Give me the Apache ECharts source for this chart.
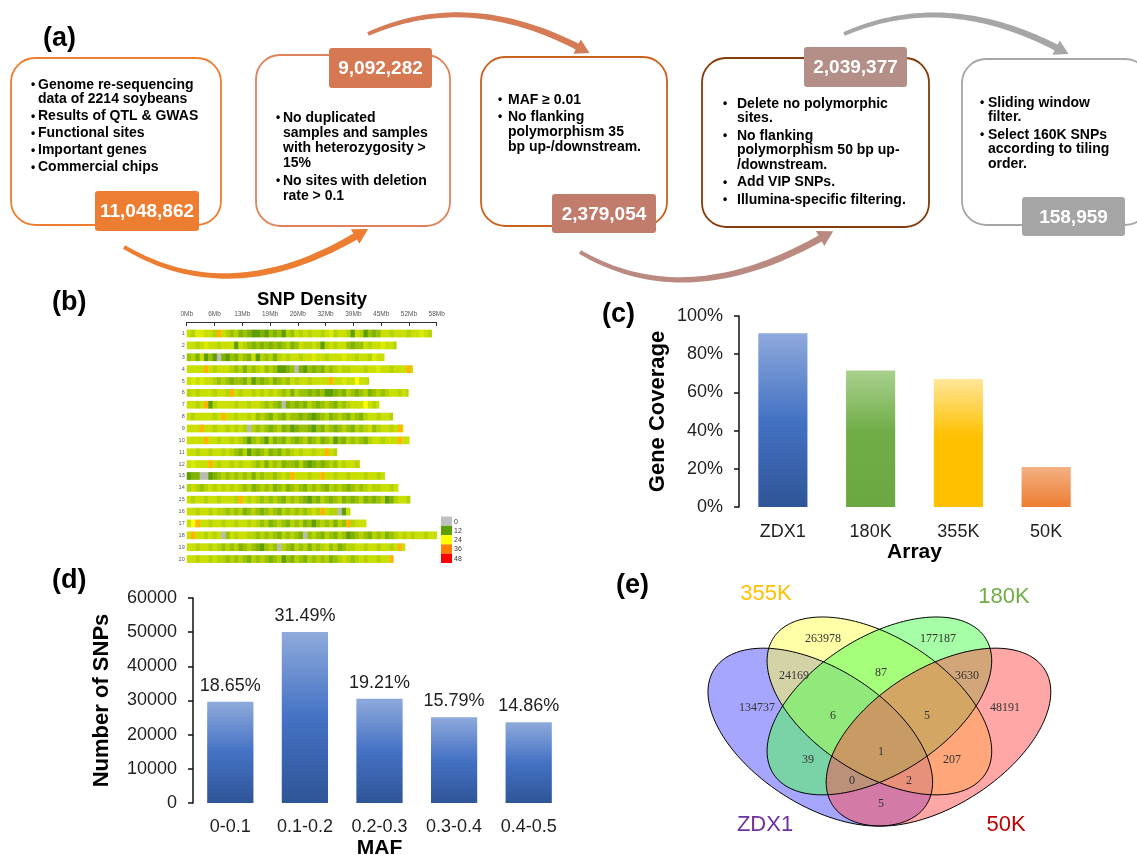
<!DOCTYPE html>
<html>
<head>
<meta charset="utf-8">
<script src="https://cdn.jsdelivr.net/npm/echarts@6/dist/echarts.min.js"></script>
<style>
  html, body { margin: 0; padding: 0; background: #ffffff; }
  #chart { width: 1137px; height: 855px; }
</style>
</head>
<body>
<div id="chart"></div>
<script>
// ---------------- data ----------------
// (a) SNP filtering pipeline
const STEP_COUNTS = [11048862, 9092282, 2379054, 2039377, 158959];
const STEP_NOTES = [
  [['Genome re-sequencing', 'data of 2214 soybeans'], ['Results of QTL & GWAS'], ['Functional sites'], ['Important genes'], ['Commercial chips']],
  [['No duplicated', 'samples and samples', 'with heterozygosity >', '15%'], ['No sites with deletion', 'rate > 0.1']],
  [['MAF \u2265 0.01'], ['No flanking', 'polymorphism 35', 'bp up-/downstream.']],
  [['Delete no polymorphic', 'sites.'], ['No flanking', 'polymorphism 50 bp up-', '/downstream.'], ['Add VIP SNPs.'], ['Illumina-specific filtering.']],
  [['Sliding window', 'filter.'], ['Select 160K SNPs', 'according to tiling', 'order.']]
];

// (b) SNP density along the 20 soybean chromosomes (1 Mb windows)
const CHROMOSOMES = ['1','2','3','4','5','6','7','8','9','10','11','12','13','14','15','16','17','18','19','20'];
const CHROM_LENGTH_MB = [56.8, 48.6, 45.8, 52.4, 42.2, 51.4, 44.6, 47.8, 50.2, 51.6, 34.8, 40.1, 45.9, 49.0, 51.8, 37.9, 41.6, 58.0, 50.6, 47.9];
const MB_AXIS_MAX = 58;
const MB_TICK_LABELS = ['0Mb', '6Mb', '13Mb', '19Mb', '26Mb', '32Mb', '39Mb', '45Mb', '52Mb', '58Mb'];
// SNPs per window for each density class code used in the strings below
const DENSITY_LEVEL_SNPS = [1, 9, 12, 14.5, 16.5, 18.5, 20, 21.5, 24, 31];
const DENSITY_BY_CHROM = [
  '6577665965 4534322324 3425465656 6567566526 5243466566 6566765',
  '6656766566 6265434343 4345346556 5256566434 465667665',
  '4536242032 4354362545 3565665667 6656667665 665766',
  '6666965666 5453545645 4223403243 4354565566 6566766566 696',
  '6767665454 3443524345 3454656656 6669667668 665',
  '5656665665 9656656565 6545354434 3422343543 4534545665 65',
  '6656925666 6566566545 4303434354 3454354566 68656',
  '6566665696 6566564543 5435443432 3453454354 35665665',
  '6669665665 6565054543 4534234432 4354345435 4564566569 6',
  '6666966566 5654245425 3435434534 5345243545 4356656669 66',
  '6656656656 5435243453 4354565665 66965',
  '6766696566 5656654535 4534435323 4345465665 6',
  '2330023454 5454535455 4565966656 6966566566 656656',
  '5654565656 5654534545 3453454354 5435454345 456556656',
  '6566566566 6596565454 5435454324 3543453434 5343452356 65',
  '6656656554 5453454345 4354545456 59655026',
  '6896656656 6566565453 4543545342 4545354956 66',
  '6966565604 6566554545 4354543045 4354354234 5435453456 56566566',
  '6656656545 4534543245 4054354535 4564534556 6566566569 6',
  '6656656554 5454354543 4524354354 5453456545 65665669'
];
const DENSITY_KEY = [0, 12, 24, 36, 48];

// (c) gene coverage per array
const ARRAYS = ['ZDX1', '180K', '355K', '50K'];
const GENE_COVERAGE = [0.91, 0.715, 0.67, 0.21];

// (d) MAF distribution
const MAF_BINS = ['0-0.1', '0.1-0.2', '0.2-0.3', '0.3-0.4', '0.4-0.5'];
const MAF_SNP_COUNTS = [29646, 50056, 30536, 25100, 23621];
const MAF_SHARE_LABELS = ['18.65%', '31.49%', '19.21%', '15.79%', '14.86%'];

// (e) overlap between arrays; region codes give membership in [ZDX1, 355K, 180K, 50K]
const VENN_SETS = ['ZDX1', '355K', '180K', '50K'];
const VENN_REGIONS = ['1000', '0100', '0010', '0001', '1100', '0110', '0011', '1110', '0111', '1010', '1111', '0101', '1011', '1101', '1001'];
const VENN_COUNTS = [134737, 263978, 177187, 48191, 24169, 87, 3630, 6, 5, 39, 1, 207, 0, 2, 5];

// ---------------- layout & style ----------------
const FONT = '"Liberation Sans", Arial, Helvetica, sans-serif';
const SERIF = '"Liberation Serif", "Times New Roman", serif';

const BOX_LAYOUT = [
  { x: 11,  y: 58, w: 210, h: 167, stroke: '#ED7D31', badge: { x: 95,   y: 191, w: 104, h: 40, fill: '#ED7D31' }, bulletX: 31,  textX: 38,  y0: 85,  wrap: 14.5, gap: 17 },
  { x: 256, y: 55, w: 194, h: 171, stroke: '#DE835C', badge: { x: 329,  y: 48,  w: 103, h: 40, fill: '#D67852' }, bulletX: 276, textX: 283, y0: 118, wrap: 15,   gap: 18 },
  { x: 481, y: 57, w: 186, h: 169, stroke: '#C8621E', badge: { x: 552,  y: 194, w: 104, h: 39, fill: '#C17C6C' }, bulletX: 498, textX: 508, y0: 100, wrap: 15,   gap: 17 },
  { x: 702, y: 58, w: 227, h: 169, stroke: '#843C0C', badge: { x: 804,  y: 47,  w: 103, h: 40, fill: '#B38F88' }, bulletX: 723, textX: 737, y0: 104, wrap: 14.5, gap: 17.5 },
  { x: 962, y: 59, w: 187, h: 166, stroke: '#A6A6A6', badge: { x: 1022, y: 197, w: 103, h: 39, fill: '#A5A5A5' }, bulletX: 980, textX: 988, y0: 103, wrap: 14.5, gap: 17.5 }
];
const ARROW_LAYOUT = [
  { p0: [124, 247], c: [230, 310], p1: [356, 236],  color: '#ED7D31', w0: 4, w1: 7, head: 14, headW: 17 },
  { p0: [368, 34],  c: [467, -10], p1: [578, 47],   color: '#D57B56', w0: 4, w1: 6.5, head: 13, headW: 16 },
  { p0: [580, 252], c: [686, 314], p1: [821, 238],  color: '#BA8A80', w0: 4, w1: 7, head: 14, headW: 17 },
  { p0: [844, 34],  c: [945, -10], p1: [1057, 48],  color: '#A6A6A6', w0: 4, w1: 6.5, head: 13, headW: 16 }
];
const PANEL_TAGS = [
  { text: '(a)', x: 43,  y: 39 },
  { text: '(b)', x: 52,  y: 303 },
  { text: '(c)', x: 602, y: 315 },
  { text: '(d)', x: 52,  y: 581 },
  { text: '(e)', x: 616, y: 586 }
];
const DENSITY_COLORS = ['#C0C0C0', '#5E9E00', '#FFFF00', '#FF8000', '#FF0000'];
const KEY_LAYOUT = { x: 441, y: 516.5, w: 11, h: 9.3, labelX: 454 };

// Venn frame: unit-square ellipse geometry mapped to pixels
const VENN_FRAME = { x0: 708, ux0: 0.065, sx: 394, y0: 617, uy0: 0.855, sy: 312 };
const VENN_ELLIPSES = [
  { cx: 0.35, cy: 0.47, rot: 135, fill: 'rgba(77,77,255,0.5)' },
  { cx: 0.50, cy: 0.57, rot: 135, fill: 'rgba(255,255,80,0.5)' },
  { cx: 0.50, cy: 0.57, rot: 45,  fill: 'rgba(77,255,77,0.5)' },
  { cx: 0.65, cy: 0.47, rot: 45,  fill: 'rgba(255,77,77,0.5)' }
];
const VENN_AXES = { a: 0.35, b: 0.2 };
const VENN_LABEL_POS = {
  '1000': [757, 708], '0100': [823, 639], '0010': [938, 639], '0001': [1005, 708],
  '1100': [794, 676], '0110': [881, 673], '0011': [967, 676],
  '1110': [833, 716], '0111': [927, 716],
  '1010': [808, 760], '1111': [881, 752], '0101': [952, 760],
  '1011': [852, 781], '1101': [909, 781], '1001': [881, 804]
};
const VENN_SET_LABELS = [
  { set: 'ZDX1', x: 765,  y: 825, color: '#7030A0' },
  { set: '355K', x: 766,  y: 594, color: '#FFC000' },
  { set: '180K', x: 1004, y: 597, color: '#70AD47' },
  { set: '50K',  x: 1006, y: 825, color: '#C00000' }
];

// ---------------- helpers ----------------
function withCommas(n) {
  return String(n).replace(/\B(?=(\d{3})+(?!\d))/g, ',');
}

// Curved, slightly tapering arrow along a quadratic Bezier, plus a triangular head
function arrowShapes(a) {
  const N = 40, left = [], right = [];
  for (let i = 0; i <= N; i++) {
    const t = i / N, mt = 1 - t;
    const x = mt * mt * a.p0[0] + 2 * mt * t * a.c[0] + t * t * a.p1[0];
    const y = mt * mt * a.p0[1] + 2 * mt * t * a.c[1] + t * t * a.p1[1];
    const tx = 2 * mt * (a.c[0] - a.p0[0]) + 2 * t * (a.p1[0] - a.c[0]);
    const ty = 2 * mt * (a.c[1] - a.p0[1]) + 2 * t * (a.p1[1] - a.c[1]);
    const L = Math.hypot(tx, ty), nx = -ty / L, ny = tx / L;
    const w = (a.w0 + (a.w1 - a.w0) * t) / 2;
    left.push([x + nx * w, y + ny * w]);
    right.push([x - nx * w, y - ny * w]);
  }
  const dx = a.p1[0] - a.c[0], dy = a.p1[1] - a.c[1], dl = Math.hypot(dx, dy);
  const ux = dx / dl, uy = dy / dl, nx = -uy, ny = ux;
  const base = [a.p1[0] - ux * 1, a.p1[1] - uy * 1];
  const tip = [a.p1[0] + ux * a.head, a.p1[1] + uy * a.head];
  return [
    { type: 'polygon', shape: { points: left.concat(right.reverse()) }, style: { fill: a.color } },
    { type: 'polygon', shape: { points: [
        [base[0] + nx * a.headW / 2, base[1] + ny * a.headW / 2],
        tip,
        [base[0] - nx * a.headW / 2, base[1] - ny * a.headW / 2]
      ] }, style: { fill: a.color } }
  ];
}

function ellipsePoints(e) {
  const r = e.rot * Math.PI / 180, pts = [], f = VENN_FRAME;
  for (let i = 0; i < 180; i++) {
    const t = i / 180 * 2 * Math.PI;
    const ux = e.cx + VENN_AXES.a * Math.cos(r) * Math.cos(t) - VENN_AXES.b * Math.sin(r) * Math.sin(t);
    const uy = e.cy + VENN_AXES.a * Math.sin(r) * Math.cos(t) + VENN_AXES.b * Math.cos(r) * Math.sin(t);
    pts.push([f.x0 + (ux - f.ux0) * f.sx, f.y0 + (f.uy0 - uy) * f.sy]);
  }
  return pts;
}

function vGrad(stops) {
  return new echarts.graphic.LinearGradient(0, 0, 0, 1, stops.map(s => ({ offset: s[0], color: s[1] })));
}

// ---------------- graphic elements ----------------
const graphics = [];

// (a) arrows, boxes, badges, notes
ARROW_LAYOUT.forEach(a => graphics.push(...arrowShapes(a)));
BOX_LAYOUT.forEach((b, i) => {
  graphics.push({ type: 'rect', shape: { x: b.x, y: b.y, width: b.w, height: b.h, r: 24 },
    style: { fill: '#ffffff', stroke: b.stroke, lineWidth: 1.8 } });
  graphics.push({ type: 'rect', shape: { x: b.badge.x, y: b.badge.y, width: b.badge.w, height: b.badge.h, r: 3 },
    style: { fill: b.badge.fill } });
  graphics.push({ type: 'text', x: b.badge.x + b.badge.w / 2, y: b.badge.y + b.badge.h / 2 + 1,
    style: { text: withCommas(STEP_COUNTS[i]), font: 'bold 19px ' + FONT, fill: '#ffffff', align: 'center', verticalAlign: 'middle' } });
  let y = b.y0, lastY = null;
  STEP_NOTES[i].forEach((bullet, j) => {
    if (j > 0) y = lastY + b.gap;
    bullet.forEach((line, li) => {
      if (li > 0) y += b.wrap;
      if (li === 0) {
        graphics.push({ type: 'text', x: b.bulletX, y: y,
          style: { text: '\u2022', font: 'bold 12px ' + FONT, fill: '#000', align: 'left', verticalAlign: 'middle' } });
      }
      graphics.push({ type: 'text', x: b.textX, y: y,
        style: { text: line, font: 'bold 14px ' + FONT, fill: '#000', align: 'left', verticalAlign: 'middle' } });
      lastY = y;
    });
  });
});

// panel tags
PANEL_TAGS.forEach(p => graphics.push({ type: 'text', x: p.x, y: p.y,
  style: { text: p.text, font: 'bold 27px ' + FONT, fill: '#000', align: 'left', verticalAlign: 'middle' } }));

// (b) title and density key
graphics.push({ type: 'text', x: 312, y: 300,
  style: { text: 'SNP Density', font: 'bold 18.5px ' + FONT, fill: '#000', align: 'center', verticalAlign: 'middle' } });
DENSITY_KEY.forEach((v, i) => {
  graphics.push({ type: 'rect', shape: { x: KEY_LAYOUT.x, y: KEY_LAYOUT.y + i * KEY_LAYOUT.h, width: KEY_LAYOUT.w, height: KEY_LAYOUT.h },
    style: { fill: DENSITY_COLORS[i] } });
  graphics.push({ type: 'text', x: KEY_LAYOUT.labelX, y: KEY_LAYOUT.y + (i + 0.55) * KEY_LAYOUT.h,
    style: { text: String(v), font: '7px ' + FONT, fill: '#333', align: 'left', verticalAlign: 'middle' } });
});

// (e) Venn: fills first, outlines on top
VENN_ELLIPSES.forEach(e => graphics.push({ type: 'polygon', shape: { points: ellipsePoints(e) }, style: { fill: e.fill } }));
VENN_ELLIPSES.forEach(e => graphics.push({ type: 'polygon', shape: { points: ellipsePoints(e) },
  style: { fill: 'none', stroke: '#000', lineWidth: 1 } }));
VENN_REGIONS.forEach((code, i) => {
  const p = VENN_LABEL_POS[code];
  graphics.push({ type: 'text', x: p[0], y: p[1],
    style: { text: String(VENN_COUNTS[i]), font: '12px ' + SERIF, fill: '#333', align: 'center', verticalAlign: 'middle' } });
});
VENN_SET_LABELS.forEach(s => graphics.push({ type: 'text', x: s.x, y: s.y,
  style: { text: VENN_SETS[VENN_SETS.indexOf(s.set)], font: '22px ' + FONT, fill: s.color, align: 'center', verticalAlign: 'middle' } }));

// ---------------- density cells ----------------
const densityData = [];
DENSITY_BY_CHROM.forEach((s, k) => {
  const codes = s.replace(/\s+/g, '');
  const len = CHROM_LENGTH_MB[k];
  for (let i = 0; i < codes.length && i < len; i++) {
    densityData.push([i, k, Math.min(i + 1, len), DENSITY_LEVEL_SNPS[+codes[i]]]);
  }
});
const MB_STEP = MB_AXIS_MAX / (MB_TICK_LABELS.length - 1);
const MB_TICKS = MB_TICK_LABELS.map((_, i) => i * MB_STEP);

// ---------------- chart ----------------
const axisText = { fontFamily: FONT, fontSize: 18, color: '#1f1f1f' };
const axisNameBold = { fontFamily: FONT, fontSize: 22, fontWeight: 'bold', color: '#000' };
const axisDark = { color: '#111', width: 1.5 };

const chart = echarts.init(document.getElementById('chart'), null, { renderer: 'canvas', width: 1137, height: 855 });

chart.setOption({
  animation: false,
  backgroundColor: '#ffffff',
  grid: [
    { left: 186.7, top: 327.6, width: 250, height: 237.4, containLabel: false, outerBoundsMode: 'none' },
    { left: 739, top: 316, width: 351, height: 191, containLabel: false, outerBoundsMode: 'none' },
    { left: 193, top: 598, width: 373, height: 205, containLabel: false, outerBoundsMode: 'none' }
  ],
  xAxis: [
    {
      gridIndex: 0, type: 'value', min: 0, max: MB_AXIS_MAX, interval: MB_STEP, position: 'top', offset: 5.6,
      axisLine: { show: true, lineStyle: { color: '#333', width: 1 } },
      axisTick: { show: true, inside: true, length: 4, customValues: MB_TICKS, lineStyle: { color: '#333', width: 1 } },
      axisLabel: { customValues: MB_TICKS, fontFamily: FONT, fontSize: 6.5, color: '#555', margin: 4,
        formatter: v => MB_TICK_LABELS[Math.round(v / MB_STEP)] },
      splitLine: { show: false }
    },
    {
      gridIndex: 1, type: 'category', data: ARRAYS,
      axisLine: { show: false }, axisTick: { show: false },
      axisLabel: Object.assign({ margin: 16 }, axisText),
      name: 'Array', nameLocation: 'middle', nameGap: 35,
      nameTextStyle: Object.assign({}, axisNameBold, { fontSize: 21 })
    },
    {
      gridIndex: 2, type: 'category', data: MAF_BINS,
      axisLine: { show: false }, axisTick: { show: false },
      axisLabel: Object.assign({ margin: 15 }, axisText),
      name: 'MAF', nameLocation: 'middle', nameGap: 35,
      nameTextStyle: Object.assign({}, axisNameBold, { fontSize: 21 })
    }
  ],
  yAxis: [
    {
      gridIndex: 0, type: 'category', data: CHROMOSOMES, inverse: true,
      axisLine: { show: false }, axisTick: { show: false },
      axisLabel: { fontFamily: FONT, fontSize: 5.5, color: '#555', margin: 2 },
      splitLine: { show: false }
    },
    {
      gridIndex: 1, type: 'value', min: 0, max: 1, interval: 0.2,
      axisLine: { show: true, lineStyle: axisDark },
      axisTick: { show: true, length: 5, lineStyle: axisDark },
      axisLabel: Object.assign({ margin: 16, formatter: v => Math.round(v * 100) + '%' }, axisText),
      splitLine: { show: false },
      name: 'Gene Coverage', nameLocation: 'middle', nameGap: 70, nameTextStyle: axisNameBold
    },
    {
      gridIndex: 2, type: 'value', min: 0, max: 60000, interval: 10000,
      axisLine: { show: true, lineStyle: axisDark },
      axisTick: { show: true, length: 5, lineStyle: axisDark },
      axisLabel: Object.assign({ margin: 16, formatter: v => String(v) }, axisText),
      splitLine: { show: false },
      name: 'Number of SNPs', nameLocation: 'middle', nameGap: 80, nameTextStyle: axisNameBold
    }
  ],
  visualMap: {
    type: 'continuous', show: false, seriesIndex: 0, dimension: 3,
    min: DENSITY_KEY[0], max: DENSITY_KEY[DENSITY_KEY.length - 1],
    inRange: { color: DENSITY_COLORS }
  },
  series: [
    {
      type: 'custom', xAxisIndex: 0, yAxisIndex: 0, data: densityData,
      encode: { x: [0, 2], y: 1 },
      renderItem: (params, api) => {
        const s = api.coord([api.value(0), api.value(1)]);
        const e = api.coord([api.value(2), api.value(1)]);
        const h = api.size([0, 1])[1] * 0.65;
        return { type: 'rect', shape: { x: s[0], y: s[1] - h / 2, width: e[0] - s[0] + 0.4, height: h },
          style: { fill: api.visual('color') } };
      }
    },
    {
      type: 'bar', xAxisIndex: 1, yAxisIndex: 1, barWidth: '56%',
      data: GENE_COVERAGE.map((v, i) => ({
        value: v,
        itemStyle: { color: vGrad([
          [[0, '#8FAADC'], [0.5, '#4472C4'], [1, '#2F5597']],
          [[0, '#A9D18E'], [0.45, '#70AD47'], [1, '#6BA842']],
          [[0, '#FFE699'], [0.45, '#FFC000'], [1, '#FFC000']],
          [[0, '#F4B183'], [1, '#ED7D31']]
        ][i]) }
      }))
    },
    {
      type: 'bar', xAxisIndex: 2, yAxisIndex: 2, barWidth: '62%',
      data: MAF_SNP_COUNTS,
      itemStyle: { color: vGrad([[0, '#8FAADC'], [0.5, '#4472C4'], [1, '#2F5597']]) },
      label: { show: true, position: 'top', distance: 7, fontFamily: FONT, fontSize: 18, color: '#1f1f1f',
        formatter: p => MAF_SHARE_LABELS[p.dataIndex] }
    }
  ],
  graphic: { elements: graphics }
});
</script>
</body>
</html>
